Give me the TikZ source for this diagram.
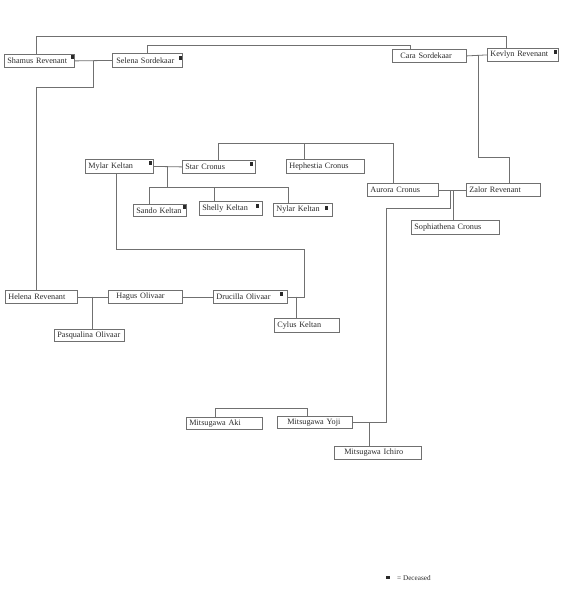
\documentclass[tikz,border=0pt]{standalone}
\usepackage{fontspec}
\setmainfont{Liberation Serif}
\definecolor{boxgray}{HTML}{707070}
\definecolor{inkgray}{HTML}{2A2A2A}
\begin{document}
\begin{tikzpicture}[x=1pt,y=-1pt,
  person/.style={draw=boxgray, line width=0.8pt, anchor=north west, inner xsep=3pt, inner ysep=0pt,
    minimum height=13pt, align=left, text=inkgray, font=\fontsize{8.2}{9}\selectfont},
  link/.style={draw=boxgray, line width=0.8pt},
  dead/.style={fill=inkgray}]
\useasboundingbox (0,0) rectangle (566,590);
% people
\node[person, text width=64pt] (shamus) at (4,54) {\mbox{Shamus Revenant}};
\node[person, text width=64pt, minimum height=14pt] (selena) at (112,53) {\mbox{\hspace*{1pt}Selena Sordekaar}};
\node[person, text width=68pt] (cara) at (392,49) {\mbox{\hspace*{5pt}Cara Sordekaar}};
\node[person, text width=65pt] (kevlyn) at (487,48) {\mbox{Kevlyn Revenant}};
\node[person, text width=62pt, minimum height=14pt] (mylar) at (85,159) {\mbox{Mylar Keltan}};
\node[person, text width=67pt] (star) at (182,160) {\mbox{Star Cronus}};
\node[person, text width=72pt, minimum height=14pt] (hephestia) at (286,159) {\mbox{Hephestia Cronus}};
\node[person, text width=65pt] (aurora) at (367,183) {\mbox{Aurora Cronus}};
\node[person, text width=68pt] (zalor) at (466,183) {\mbox{Zalor Revenant}};
\node[person, text width=47pt, minimum height=12pt] (sando) at (133,204) {\mbox{Sando Keltan}};
\node[person, text width=57pt, minimum height=14pt] (shelly) at (199,201) {\mbox{Shelly Keltan}};
\node[person, text width=53pt] (nylar) at (273,203) {\mbox{Nylar Keltan}};
\node[person, text width=82pt, minimum height=14pt] (sophia) at (411,220) {\mbox{Sophiathena Cronus}};
\node[person, text width=66pt] (helena) at (5,290) {\mbox{Helena Revenant}};
\node[person, text width=68pt] (hagus) at (108,290) {\mbox{\hspace*{5pt}Hagus Olivaar}};
\node[person, text width=68pt] (drucilla) at (213,290) {\mbox{Drucilla Olivaar}};
\node[person, text width=64pt, minimum height=12pt] (pasqualina) at (54,329) {\mbox{Pasqualina Olivaar}};
\node[person, text width=59pt, minimum height=14pt] (cylus) at (274,318) {\mbox{Cylus Keltan}};
\node[person, text width=70pt, minimum height=12pt] (aki) at (186,417) {\mbox{Mitsugawa Aki}};
\node[person, text width=69pt, minimum height=12pt] (yoji) at (277,416) {\mbox{\hspace*{7pt}Mitsugawa Yoji}};
\node[person, text width=81pt] (ichiro) at (334,446) {\mbox{\hspace*{7pt}Mitsugawa Ichiro}};
% deceased marks
\foreach \px/\py in {71/55, 179/56, 554/50, 149/161, 250/162, 183/205, 256/204, 325/206, 280/292}
  \fill[dead] (\px,\py) rectangle ++(3,3.5);
% junction coordinates
\coordinate (jss) at (93,60.5);
\coordinate (jck) at (478,55);
\coordinate (jaz) at (453,190);
\coordinate (jaz2) at (450,190);
\coordinate (jms) at (167,166);
\coordinate (jhh) at (92,296.5);
\coordinate (jdc) at (296,296.5);
\coordinate (jyi) at (369,422);
% connectors
\draw[link] (shamus.north west) ++(32,0) |- (506,36) -- (kevlyn.north west -| 506,0);
\draw[link] (selena.north west) ++(35,0) |- (410,45) -- (cara.north west -| 410,0);
\draw[link] (shamus.east) -- (selena.west);
\draw[link] (jss) |- (36,87) -- (helena.north west -| 36,0);
\draw[link] (cara.east) -- (kevlyn.west);
\draw[link] (jck) |- (509,157) -- (zalor.north west -| 509,0);
\draw[link] (aurora.east) -- (zalor.west);
\draw[link] (jaz) -- (sophia.north west -| jaz);
\draw[link] (jaz2) |- (386,208) |- (yoji.east);
\draw[link] (star.north west) ++(36,0) |- (393,143) -- (aurora.north west -| 393,0);
\draw[link] (hephestia.north west) ++(18,0) -- (304,143);
\draw[link] (mylar.east) -- (star.west);
\draw[link] (jms) -- (167,187);
\draw[link] (sando.north west -| 149,0) |- (288,187) -- (nylar.north west -| 288,0);
\draw[link] (214,187) -- (shelly.north west -| 214,0);
\draw[link] (mylar.south west) ++(31,0) |- (304,249) |- (drucilla.east);
\draw[link] (helena.east) -- (hagus.west);
\draw[link] (jhh) -- (pasqualina.north west -| jhh);
\draw[link] (hagus.east) -- (drucilla.west);
\draw[link] (jdc) -- (cylus.north west -| jdc);
\draw[link] (aki.north west) ++(29,0) |- (307,408) -- (yoji.north west -| 307,0);
\draw[link] (jyi) -- (ichiro.north west -| jyi);
% legend
\fill[dead] (386,576) rectangle ++(3.5,3);
\node[anchor=west, inner sep=0pt, text=inkgray, font=\fontsize{7.2}{8}\selectfont] (legend) at (397,578.5) {= Deceased};
\end{tikzpicture}
\end{document}
